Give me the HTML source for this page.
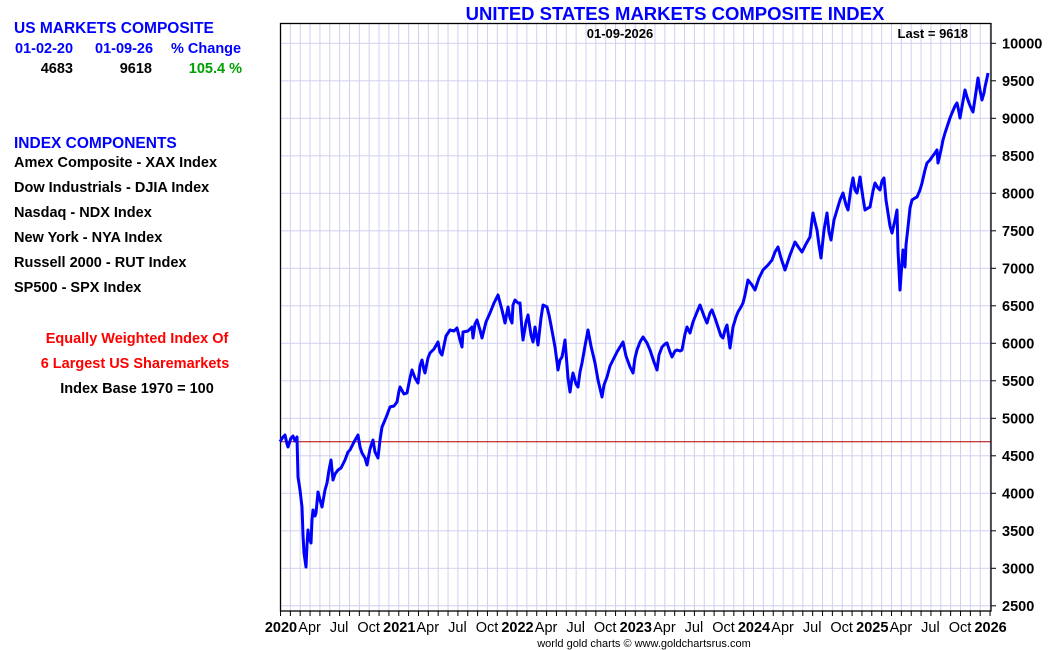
<!DOCTYPE html>
<html><head><meta charset="utf-8"><style>
body{margin:0;background:#fff;}
svg{display:block;font-family:"Liberation Sans",Arial,sans-serif;}
</style></head><body>
<svg width="1050" height="650" viewBox="0 0 1050 650" xmlns="http://www.w3.org/2000/svg">
<defs>
<pattern id="gv" patternUnits="userSpaceOnUse" x="280" y="0" width="9.855" height="650"><rect x="0" y="0" width="1" height="650" fill="#d0d0f0"/></pattern>
<pattern id="gh" patternUnits="userSpaceOnUse" x="0" y="42.8" width="1050" height="37.5"><rect x="0" y="0" width="1050" height="1" fill="#d0d0f0"/></pattern>
<pattern id="tv" patternUnits="userSpaceOnUse" x="280" y="0" width="9.855" height="650"><rect x="0" y="0" width="1" height="650" fill="#000"/></pattern>
<pattern id="th" patternUnits="userSpaceOnUse" x="0" y="42.8" width="1050" height="37.5"><rect x="0" y="0" width="1050" height="1" fill="#000"/></pattern>
</defs>
<rect width="1050" height="650" fill="#fff"/>
<rect x="281" y="24" width="710" height="587" fill="url(#gv)"/>
<rect x="281" y="24" width="710" height="587" fill="url(#gh)"/>
<line x1="280" y1="441.7" x2="991" y2="441.7" stroke="#b00000" stroke-width="1"/>
<rect x="280.5" y="23.5" width="710.5" height="587.5" fill="none" stroke="#000" stroke-width="1.3"/>
<rect x="280" y="611" width="711" height="5" fill="url(#tv)"/>
<rect x="991" y="40" width="5" height="570" fill="url(#th)"/>
<polyline fill="none" stroke="#0000ff" stroke-width="3" stroke-linejoin="round" points="280,441.7 283,437 285,435 287,444 288,447 291,438 293,436 295,441 297,437 298,477 300,490 302,507 303,535 304,553 305,560 306,567 307,545 308,530 309,538 311,543 312,520 313,510 315,516 316,513 318,492 320,500 322,507 325,490 327,483 329,470 331,460 333,480 335,474 338,470 341,468 345,460 348,452 350,450 354,442 358,435 360,447 362,453 365,458 367,465 370,449 373,440 375,452 378,458 380,440 382,427 385,420 387,415 390,407 394,406 397,402 399,391 400,387 404,394 407,393 410,378 412,370 415,378 418,383 420,366 422,360 424,370 425,373 428,358 430,353 434,349 438,342 440,352 442,355 446,336 450,330 454,331 457,328 460,340 462,347 463,332 468,331 472,327 473,338 475,324 477,320 480,330 482,338 486,322 490,313 494,303 498,295 502,310 505,323 508,307 510,318 512,323 513,305 515,300 518,303 520,303 522,330 523,340 526,322 528,315 531,335 533,342 535,327 537,339 538,345 541,318 543,305 547,307 549,315 550,320 553,336 555,347 557,362 558,370 560,360 562,357 564,346 565,340 568,378 570,392 572,378 573,373 576,384 578,387 580,372 582,363 585,346 588,330 591,346 595,363 598,380 602,397 604,385 607,377 610,366 613,360 617,352 620,347 623,342 626,356 630,367 633,373 635,358 637,350 640,342 643,337 647,343 650,350 654,362 657,370 659,355 662,347 665,344 667,343 670,352 672,357 675,351 677,350 680,351 682,350 685,334 687,327 690,333 693,322 697,312 700,305 704,316 707,323 710,313 712,310 715,318 718,327 721,336 723,338 725,330 727,325 729,340 730,348 733,327 736,317 738,312 741,307 743,303 745,295 748,280 752,285 755,290 759,278 763,270 768,265 772,260 775,252 778,247 781,258 785,270 790,255 795,242 799,248 802,252 806,244 810,237 812,220 813,213 815,222 817,230 819,245 821,258 824,230 827,213 829,232 831,240 834,220 837,210 840,200 843,193 846,205 848,210 851,188 853,178 855,190 857,193 859,183 860,177 863,198 865,210 868,208 870,207 873,191 875,183 878,188 880,190 882,181 884,178 886,200 888,213 890,226 892,233 895,220 897,210 898,250 900,290 902,262 903,250 905,267 906,245 908,227 910,208 912,200 915,198 917,197 920,190 922,183 925,170 927,163 930,160 932,157 935,153 937,150 938,163 941,150 943,140 945,133 947,127 950,118 952,113 955,106 957,103 959,112 960,118 963,101 965,90 967,97 969,103 971,108 973,112 976,92 978,78 980,90 982,100 984,93 985,87 987,78 988,73"/>
<g font-size="14.5" font-weight="bold" fill="#000">
<text x="1002" y="48.3">10000</text>
<text x="1002" y="85.8">9500</text>
<text x="1002" y="123.3">9000</text>
<text x="1002" y="160.8">8500</text>
<text x="1002" y="198.3">8000</text>
<text x="1002" y="235.8">7500</text>
<text x="1002" y="273.3">7000</text>
<text x="1002" y="310.8">6500</text>
<text x="1002" y="348.3">6000</text>
<text x="1002" y="385.8">5500</text>
<text x="1002" y="423.3">5000</text>
<text x="1002" y="460.8">4500</text>
<text x="1002" y="498.3">4000</text>
<text x="1002" y="535.8">3500</text>
<text x="1002" y="573.3">3000</text>
<text x="1002" y="610.8">2500</text>
</g>
<g font-size="14.5" fill="#000" text-anchor="middle">
<text x="281" y="632" font-weight="bold">2020</text>
<text x="309.6" y="632">Apr</text><text x="339.1" y="632">Jul</text><text x="368.7" y="632">Oct</text>
<text x="399.3" y="632" font-weight="bold">2021</text>
<text x="427.8" y="632">Apr</text><text x="457.4" y="632">Jul</text><text x="487" y="632">Oct</text>
<text x="517.5" y="632" font-weight="bold">2022</text>
<text x="546.1" y="632">Apr</text><text x="575.7" y="632">Jul</text><text x="605.2" y="632">Oct</text>
<text x="635.8" y="632" font-weight="bold">2023</text>
<text x="664.4" y="632">Apr</text><text x="693.9" y="632">Jul</text><text x="723.5" y="632">Oct</text>
<text x="754" y="632" font-weight="bold">2024</text>
<text x="782.6" y="632">Apr</text><text x="812.2" y="632">Jul</text><text x="841.7" y="632">Oct</text>
<text x="872.3" y="632" font-weight="bold">2025</text>
<text x="900.9" y="632">Apr</text><text x="930.4" y="632">Jul</text><text x="960" y="632">Oct</text>
<text x="990.6" y="632" font-weight="bold">2026</text>
</g>
<text x="675" y="20" font-size="18.5" font-weight="bold" fill="#0000ff" text-anchor="middle">UNITED STATES MARKETS COMPOSITE INDEX</text>
<text x="620" y="38" font-size="13" font-weight="bold" text-anchor="middle">01-09-2026</text>
<text x="968" y="38" font-size="13" font-weight="bold" text-anchor="end">Last = 9618</text>
<text x="644" y="647" font-size="11" text-anchor="middle" fill="#000">world gold charts © www.goldchartsrus.com</text>
<g font-size="14.5" font-weight="bold">
<text x="14" y="33" font-size="15.5" fill="#0000ff">US MARKETS COMPOSITE</text>
<text x="15" y="53" fill="#0000ff">01-02-20</text>
<text x="95" y="53" fill="#0000ff">01-09-26</text>
<text x="171" y="53" fill="#0000ff">% Change</text>
<text x="73" y="73" text-anchor="end">4683</text>
<text x="152" y="73" text-anchor="end">9618</text>
<text x="242" y="73" text-anchor="end" fill="#00a000">105.4 %</text>
<text x="14" y="148" font-size="15.5" fill="#0000ff">INDEX COMPONENTS</text>
<text x="14" y="167">Amex Composite - XAX Index</text>
<text x="14" y="192">Dow Industrials - DJIA Index</text>
<text x="14" y="217">Nasdaq - NDX Index</text>
<text x="14" y="242">New York - NYA Index</text>
<text x="14" y="267">Russell 2000 - RUT Index</text>
<text x="14" y="292">SP500 - SPX Index</text>
<text x="137" y="343" text-anchor="middle" fill="#ff0000">Equally Weighted Index Of</text>
<text x="135" y="368" text-anchor="middle" fill="#ff0000">6 Largest US Sharemarkets</text>
<text x="137" y="393" text-anchor="middle">Index Base 1970 = 100</text>
</g>
</svg>
</body></html>
